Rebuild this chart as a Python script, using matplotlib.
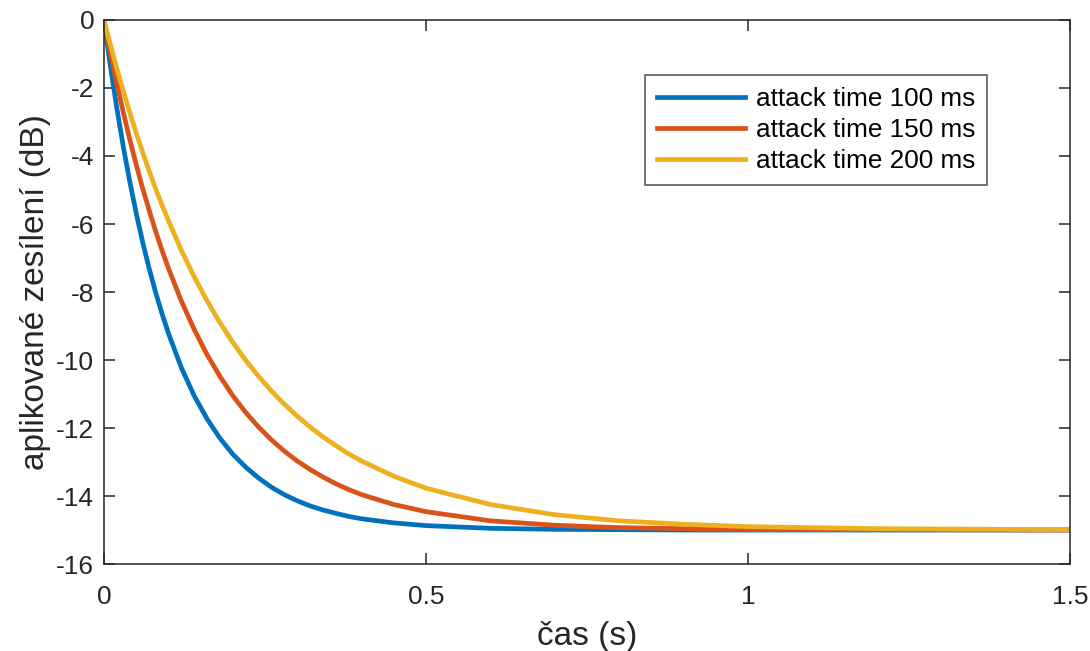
import matplotlib
matplotlib.use('Agg')
import matplotlib.pyplot as plt

# čas (s) a odečtené hodnoty zesílení (dB)
t = [0, 0.01, 0.02, 0.03, 0.04, 0.05, 0.06, 0.07, 0.08, 0.09, 0.10,
     0.12, 0.14, 0.16, 0.18, 0.20, 0.22, 0.24, 0.26, 0.28, 0.30,
     0.32, 0.34, 0.36, 0.38, 0.40, 0.45, 0.50, 0.6, 0.7, 0.8, 0.9,
     1.0, 1.2, 1.5]

gain_100 = [0, -1.36, -2.60, -3.73, -4.75, -5.68, -6.53, -7.30, -8.00, -8.63, -9.21,
            -10.22, -11.05, -11.73, -12.30, -12.77, -13.15, -13.47, -13.74, -13.96, -14.14,
            -14.29, -14.41, -14.51, -14.60, -14.67, -14.79, -14.87, -14.95, -14.98, -14.99, -15.0,
            -15.0, -15.0, -15.0]

gain_150 = [0, -0.97, -1.87, -2.72, -3.51, -4.25, -4.95, -5.59, -6.20, -6.77, -7.30,
            -8.26, -9.10, -9.84, -10.48, -11.05, -11.54, -11.97, -12.35, -12.68, -12.97,
            -13.22, -13.44, -13.64, -13.81, -13.96, -14.25, -14.46, -14.73, -14.86, -14.93, -14.96,
            -14.98, -14.99, -15.0]

gain_200 = [0, -0.73, -1.43, -2.09, -2.72, -3.32, -3.89, -4.43, -4.95, -5.44, -5.90,
            -6.77, -7.55, -8.26, -8.90, -9.48, -10.01, -10.48, -10.91, -11.30, -11.65,
            -11.97, -12.26, -12.52, -12.76, -12.97, -13.42, -13.77, -14.25, -14.55, -14.73, -14.83,
            -14.90, -14.96, -14.99]

labels = ['attack time 100 ms', 'attack time 150 ms', 'attack time 200 ms']
colors = ['#0072BD', '#D95319', '#EDB120']

plt.rcParams['font.family'] = ['Liberation Sans', 'DejaVu Sans']
plt.rcParams['axes.unicode_minus'] = False

fig = plt.figure(figsize=(10.9, 6.51), dpi=100)
ax = fig.add_axes([0.0954, 0.1336, 0.8863, 0.8357])

for g, lab, c in zip([gain_100, gain_150, gain_200], labels, colors):
    ax.plot(t, g, color=c, linewidth=3.4, label=lab)

ax.set_xlim(0, 1.5)
ax.set_ylim(-16, 0)
ax.set_xticks([0, 0.5, 1, 1.5])
ax.set_xticklabels(['0', '0.5', '1', '1.5'])
ax.set_yticks(range(-16, 1, 2))
ax.tick_params(direction='in', length=8, width=1.1, color='#262626',
               labelsize=19, labelcolor='#262626', top=True, right=True)
ax.tick_params(axis='x', pad=15)
ax.tick_params(axis='y', pad=7)
for s in ax.spines.values():
    s.set_color('#262626')
    s.set_linewidth(1.1)

ax.set_xlabel('čas (s)', fontsize=24, color='#262626', labelpad=9)
ax.set_ylabel('aplikované zesílení (dB)', fontsize=24, color='#262626', labelpad=4)

leg = ax.legend(loc='upper right', bbox_to_anchor=(0.914, 0.899), fontsize=18.8,
                frameon=True, fancybox=False, handlelength=3.4, borderpad=0.45,
                labelspacing=0.28, handletextpad=0.4, borderaxespad=0)
leg.get_frame().set_edgecolor('#262626')
leg.get_frame().set_linewidth(1.1)

fig.savefig('out.png', dpi=100)
